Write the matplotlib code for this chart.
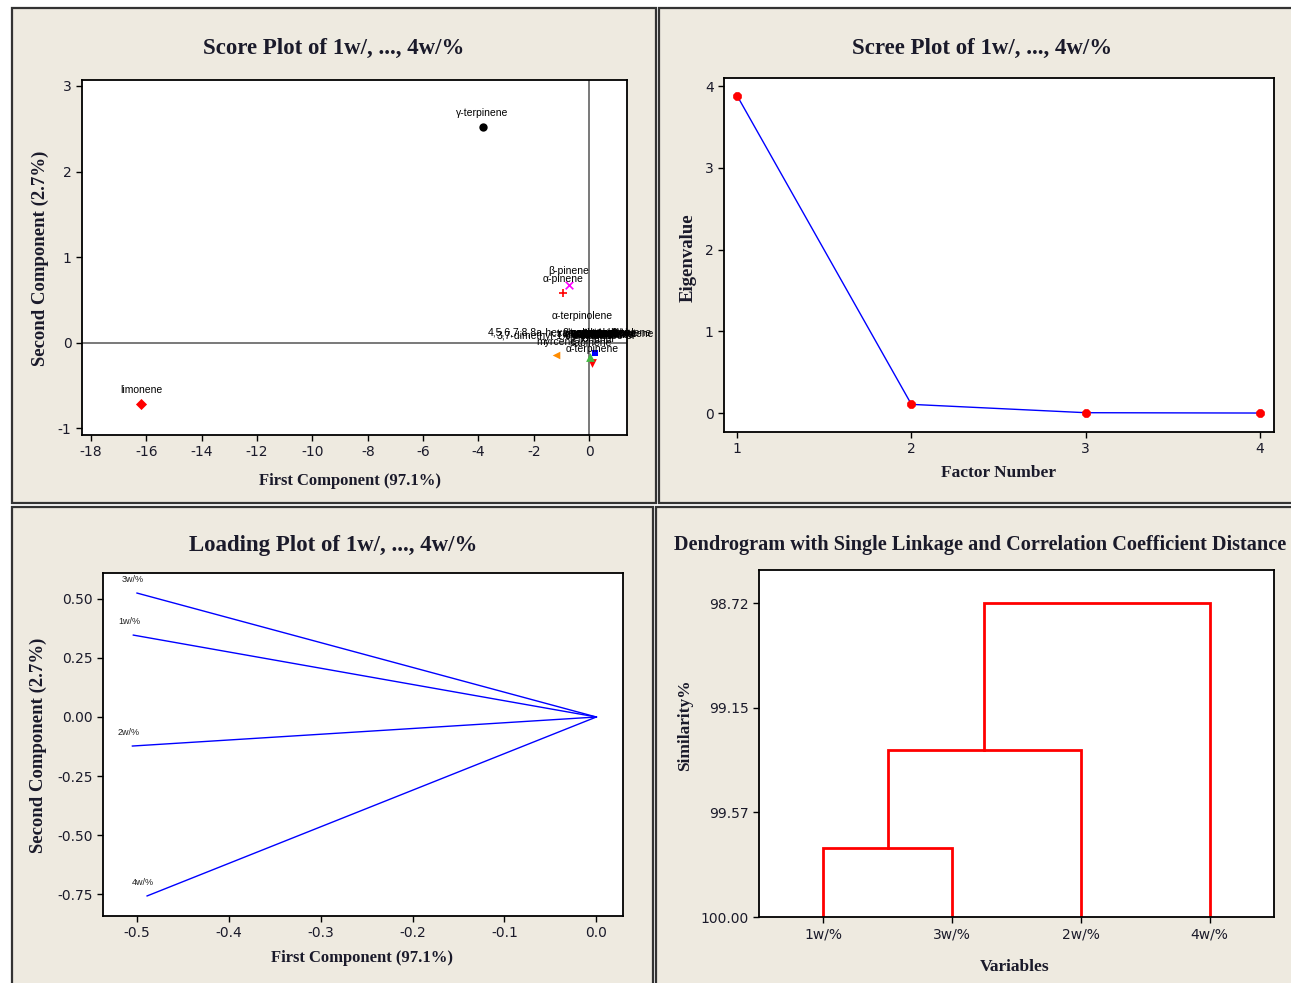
import numpy as np
import matplotlib.pyplot as plt
from matplotlib.patches import Rectangle

plt.rcParams['axes.unicode_minus'] = False

# ---- data ----
# score plot (first / second component scores)
score_names = ['limonene', 'γ-terpinene', 'α-pinene', 'β-pinene', 'α-terpinolene',
               '4,5,6,7,8,8a-hexahydronaphthalene',
               '3,7-dimethyl-1,6-octadien-3-ol',
               'α-thujene', 'camphene', 'octanal', 'α-phellandrene', 'p-cymene',
               'linalool', 'terpinen-4-ol', 'α-terpineol', 'decanal', 'neral',
               'geranial', 'neryl acetate', 'geranyl acetate', 'β-caryophyllene',
               'β-bisabolene', 'trans-α-bergamotene',
               'nonanal', 'α-terpinene', 'sabinene', 'myrcene']
score_pc1 = [-16.2, -3.85, -0.94, -0.72, -0.25,
             -0.69,
             -0.83,
             0.30, 0.35, 0.40, 0.38, 0.20, 0.33, 0.36, 0.30,
             0.40, 0.34, 0.37, 0.39, 0.42, 0.38, 0.35, 0.60,
             0.22, 0.12, 0.05, -1.19]
score_pc2 = [-0.72, 2.52, 0.58, 0.67, 0.15,
             -0.05,
             -0.09,
             -0.05, -0.06, -0.05, -0.07, -0.08, -0.06, -0.05, -0.07,
             -0.06, -0.05, -0.06, -0.05, -0.06, -0.05, -0.07, -0.06,
             -0.12, -0.24, -0.17, -0.15]

# scree plot
factor_number = [1, 2, 3, 4]
eigenvalue = [3.884, 0.108, 0.006, 0.002]

# loading plot
load_names = ['3w/%', '1w/%', '2w/%', '4w/%']
load_pc1 = [-0.500, -0.504, -0.505, -0.489]
load_pc2 = [0.525, 0.347, -0.123, -0.758]

# dendrogram (single linkage, similarity %)
leaf_labels = ['1w/%', '3w/%', '2w/%', '4w/%']
merge_left = ['1w/%', 'c1', 'c2']
merge_right = ['3w/%', '2w/%', '4w/%']
merge_sim = [99.72, 99.32, 98.72]

# ---- style ----
W, H = 1291, 983
BG = '#EEEAE0'
TXT = '#1a1a2a'
SERIF = 'Liberation Serif'
SANS = 'DejaVu Sans'

score_markers = ['D', 'o', '+', 'x', 'o',
                 's', 's',
                 'o', 's', 'D', 'o', 's', 'D', 'o', 's', 'D', 'o', 's', 'D', 'o', 's', 'D', 'o',
                 's', 'v', '^', '<']
score_colors = ['red', 'black', 'red', 'magenta', 'white',
                'white', 'white',
                'white', 'white', 'white', 'white', 'white', 'white', 'white', 'white',
                'white', 'white', 'white', 'white', 'white', 'white', 'white', 'white',
                'blue', 'red', '#44bb44', 'darkorange']
score_sizes = [32, 36, 40, 30, 0,
               0, 0,
               0, 0, 0, 0, 0, 0, 0, 0, 0, 0, 0, 0, 0, 0, 0, 0,
               18, 40, 40, 30]

fig = plt.figure(figsize=(W / 100, H / 100), dpi=100)
fig.patch.set_facecolor('white')


def box(l, t, r, b):
    return [l / W, 1 - b / H, (r - l) / W, (b - t) / H]


def panel(l, t, r, b):
    fig.add_artist(Rectangle((l / W, 1 - b / H), (r - l) / W, (b - t) / H,
                             transform=fig.transFigure, facecolor=BG,
                             edgecolor='#333333', lw=1.6, zorder=0))


def ftext(x, y, s, **kw):
    fig.text(x / W, 1 - y / H, s, ha='center', va='center', color=TXT, **kw)


def style_ax(ax):
    ax.set_facecolor('white')
    for sp in ax.spines.values():
        sp.set_color('black')
        sp.set_linewidth(1.3)
    ax.tick_params(direction='out', length=4, width=1, labelsize=10,
                   labelcolor=TXT, top=False, right=False)
    for lab in ax.get_xticklabels() + ax.get_yticklabels():
        lab.set_fontfamily(SANS)


panel(12, 8, 656, 503)
panel(659, 8, 1295, 503)
panel(12, 507, 653, 985)
panel(656, 507, 1295, 985)

# ---- score plot ----
ax1 = fig.add_axes(box(82, 80, 627, 435))
ax1.axhline(0, color='#555555', lw=1.1, zorder=1)
ax1.axvline(0, color='#555555', lw=1.1, zorder=1)
for i, name in enumerate(score_names):
    m = score_markers[i]
    lw = 1.2 if m in ['+', 'x'] else 0
    if score_sizes[i] > 0:
        ax1.scatter(score_pc1[i], score_pc2[i], marker=m, s=score_sizes[i],
                    color=score_colors[i], linewidths=lw, zorder=3)
    ax1.annotate(name, (score_pc1[i], score_pc2[i]), xytext=(0, 10),
                 textcoords='offset points', ha='center', va='center',
                 fontsize=7.5, family='Liberation Sans', color='black', zorder=4)
ax1.set_xlim(-18.33, 1.37)
ax1.set_ylim(-1.08, 3.07)
ax1.set_xticks(np.arange(-18, 1, 2))
ax1.set_yticks([-1, 0, 1, 2, 3])
style_ax(ax1)
ftext(334, 48, 'Score Plot of 1w/, ..., 4w/%', family=SERIF, weight='bold', fontsize=16.5)
ftext(350, 481, 'First Component (97.1%)', family=SERIF, weight='bold', fontsize=12)
ftext(40, 258, 'Second Component (2.7%)', family=SERIF, weight='bold', fontsize=13.5,
      rotation=90)

# ---- scree plot ----
ax2 = fig.add_axes(box(724, 78, 1274, 432))
ax2.plot(factor_number, eigenvalue, color='blue', lw=1, zorder=2)
ax2.scatter(factor_number, eigenvalue, marker='8', s=32, color='red', zorder=3)
ax2.set_xlim(0.925, 4.08)
ax2.set_ylim(-0.23, 4.1)
ax2.set_xticks(factor_number)
ax2.set_yticks([0, 1, 2, 3, 4])
style_ax(ax2)
ftext(982, 48, 'Scree Plot of 1w/, ..., 4w/%', family=SERIF, weight='bold', fontsize=16.5)
ftext(998, 473, 'Factor Number', family=SERIF, weight='bold', fontsize=12.5)
ftext(688, 258, 'Eigenvalue', family=SERIF, weight='bold', fontsize=13.5, rotation=90)

# ---- loading plot ----
ax3 = fig.add_axes(box(103, 573, 623, 916))
for i, name in enumerate(load_names):
    ax3.plot([0, load_pc1[i]], [0, load_pc2[i]], color='blue', lw=1)
    ax3.annotate(name, (load_pc1[i], load_pc2[i]), xytext=(-3, 10),
                 textcoords='offset points', ha='center', va='center',
                 fontsize=6.5, family='Liberation Sans', color='#222222')
ax3.set_xlim(-0.537, 0.029)
ax3.set_ylim(-0.843, 0.61)
ax3.set_xticks([-0.5, -0.4, -0.3, -0.2, -0.1, 0.0])
ax3.set_xticklabels(['-0.5', '-0.4', '-0.3', '-0.2', '-0.1', '0.0'])
ax3.set_yticks([0.5, 0.25, 0.0, -0.25, -0.5, -0.75])
ax3.set_yticklabels(['0.50', '0.25', '0.00', '-0.25', '-0.50', '-0.75'])
style_ax(ax3)
ftext(333, 545, 'Loading Plot of 1w/, ..., 4w/%', family=SERIF, weight='bold', fontsize=16.5)
ftext(362, 958, 'First Component (97.1%)', family=SERIF, weight='bold', fontsize=12)
ftext(38, 745, 'Second Component (2.7%)', family=SERIF, weight='bold', fontsize=13.5,
      rotation=90)

# ---- dendrogram ----
ax4 = fig.add_axes(box(759, 570, 1274, 917))
pos = {name: (i + 1, 100.0) for i, name in enumerate(leaf_labels)}
for k in range(len(merge_sim)):
    xl, yl = pos[merge_left[k]]
    xr, yr = pos[merge_right[k]]
    h = merge_sim[k]
    ax4.plot([xl, xl, xr, xr], [yl, h, h, yr], color='red', lw=2, solid_joinstyle='miter')
    pos['c%d' % (k + 1)] = ((xl + xr) / 2, h)
ax4.set_xlim(0.5, 4.5)
ax4.set_ylim(100.0, 98.584)
ax4.set_xticks(range(1, len(leaf_labels) + 1))
ax4.set_xticklabels(leaf_labels)
ax4.set_yticks([100.0, 99.573, 99.147, 98.72])
ax4.set_yticklabels(['100.00', '99.57', '99.15', '98.72'])
style_ax(ax4)
ftext(980, 545, 'Dendrogram with Single Linkage and Correlation Coefficient Distance',
      family=SERIF, weight='bold', fontsize=14.6)
ftext(1015, 967, 'Variables', family=SERIF, weight='bold', fontsize=12.5)
ftext(685, 725, 'Similarity%', family=SERIF, weight='bold', fontsize=12.5, rotation=90)

plt.savefig('out.png', dpi=100, facecolor=fig.get_facecolor())
